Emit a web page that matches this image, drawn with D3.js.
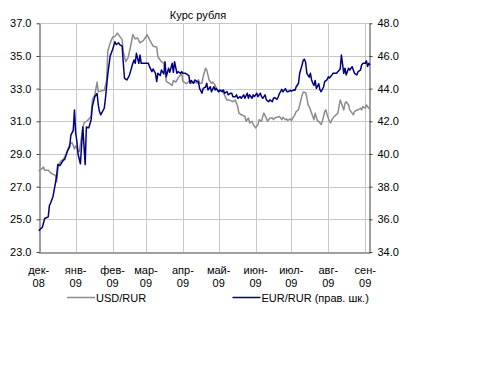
<!DOCTYPE html>
<html>
<head>
<meta charset="utf-8">
<script src="https://cdn.jsdelivr.net/npm/d3@7"></script>
<style>
  body { margin: 0; background: #fff; }
  svg { display: block; }
  text { font-family: "Liberation Sans", Arial, sans-serif; font-size: 11px; fill: #000; }
</style>
</head>
<body>
<svg id="chart" width="477" height="371"></svg>
<script>
// Курс доллара к рублю (левая шкала)
const usdDates = [
  "2008-12-01","2008-12-03","2008-12-05","2008-12-06","2008-12-09","2008-12-11","2008-12-13","2008-12-15","2008-12-16","2008-12-17",
  "2008-12-18","2008-12-20","2008-12-22","2008-12-24","2008-12-26","2008-12-27","2008-12-29","2008-12-31","2009-01-01","2009-01-03",
  "2009-01-04","2009-01-07","2009-01-08","2009-01-11","2009-01-14","2009-01-15","2009-01-17","2009-01-19","2009-01-20","2009-01-22",
  "2009-01-25","2009-01-27","2009-01-28","2009-01-30","2009-02-01","2009-02-03","2009-02-05","2009-02-07","2009-02-09","2009-02-10",
  "2009-02-12","2009-02-14","2009-02-16","2009-02-18","2009-02-20","2009-02-22","2009-02-24","2009-02-27","2009-03-02","2009-03-04",
  "2009-03-07","2009-03-10","2009-03-11","2009-03-14","2009-03-16","2009-03-17","2009-03-18","2009-03-21","2009-03-23","2009-03-24",
  "2009-03-26","2009-03-28","2009-03-31","2009-04-01","2009-04-04","2009-04-06","2009-04-07","2009-04-08","2009-04-11","2009-04-13",
  "2009-04-14","2009-04-15","2009-04-17","2009-04-18","2009-04-20","2009-04-21","2009-04-23","2009-04-25","2009-04-26","2009-04-28",
  "2009-04-29","2009-05-01","2009-05-04","2009-05-06","2009-05-08","2009-05-10","2009-05-13","2009-05-15","2009-05-17","2009-05-18",
  "2009-05-20","2009-05-23","2009-05-24","2009-05-26","2009-05-27","2009-05-29","2009-05-30","2009-06-01","2009-06-03","2009-06-04",
  "2009-06-06","2009-06-07","2009-06-08","2009-06-10","2009-06-11","2009-06-13","2009-06-15","2009-06-16","2009-06-17","2009-06-20",
  "2009-06-21","2009-06-23","2009-06-24","2009-06-26","2009-06-27","2009-06-28","2009-06-30","2009-07-01","2009-07-03","2009-07-04",
  "2009-07-05","2009-07-07","2009-07-08","2009-07-10","2009-07-11","2009-07-13","2009-07-14","2009-07-15","2009-07-16","2009-07-17",
  "2009-07-19","2009-07-20","2009-07-21","2009-07-23","2009-07-24","2009-07-26","2009-07-27","2009-07-29","2009-07-30","2009-07-31",
  "2009-08-02","2009-08-03","2009-08-04","2009-08-06","2009-08-07","2009-08-09","2009-08-10","2009-08-11","2009-08-12","2009-08-14",
  "2009-08-15","2009-08-16","2009-08-18","2009-08-19","2009-08-21","2009-08-22","2009-08-23","2009-08-25","2009-08-26","2009-08-28",
  "2009-08-29","2009-08-30","2009-09-01","2009-09-02","2009-09-04","2009-09-05"
];
const usdRates = [
  27.95,28.05,28.2,28.0,28.0,27.85,27.75,27.7,27.3,28.0,
  28.4,28.6,28.7,29.0,29.4,29.6,29.7,29.3,29.5,29.2,
  29.15,30.55,30.9,31.05,31.3,32.3,32.6,33.4,32.8,32.85,
  32.9,33.5,35.3,35.8,36.15,36.2,36.4,36.2,36.0,35.25,
  34.65,34.9,35.55,36.3,36.05,36.1,35.8,35.95,36.3,36.0,
  35.6,35.55,34.95,34.65,34.55,34.2,33.45,33.3,33.2,33.5,
  33.4,33.65,33.95,33.45,33.3,33.45,33.5,33.33,33.4,33.33,
  33.55,33.33,33.33,33.73,34.25,34.15,33.53,33.33,33.4,33.22,
  33.0,32.81,32.9,32.6,32.3,32.3,32.2,32.3,31.9,31.5,
  31.4,31.3,31.0,31.2,30.9,31.0,30.8,30.6,30.8,31.1,
  31.0,31.3,31.5,31.2,31.0,31.2,31.2,31.1,31.2,31.28,
  31.3,31.1,31.25,31.1,31.15,31.05,31.15,31.05,31.3,31.4,
  31.6,31.7,32.0,32.6,32.8,32.75,32.45,32.0,31.9,31.7,
  31.3,31.1,31.5,31.0,31.0,30.8,31.0,31.6,31.7,31.4,
  31.0,30.9,31.1,31.3,31.35,31.5,31.9,32.3,32.1,31.7,
  32.1,32.2,32.0,31.7,31.5,31.4,31.6,31.7,31.7,31.8,
  31.7,31.9,31.8,32.0,31.8,31.8
];

// Курс евро к рублю (правая шкала)
const eurDates = [
  "2008-12-01","2008-12-03","2008-12-04","2008-12-06","2008-12-09","2008-12-10","2008-12-11","2008-12-13","2008-12-15","2008-12-16",
  "2008-12-17","2008-12-19","2008-12-21","2008-12-23","2008-12-25","2008-12-27","2008-12-28","2008-12-30","2008-12-31","2009-01-01",
  "2009-01-02","2009-01-03","2009-01-05","2009-01-07","2009-01-09","2009-01-10","2009-01-12","2009-01-14","2009-01-15","2009-01-17",
  "2009-01-19","2009-01-20","2009-01-21","2009-01-22","2009-01-25","2009-01-26","2009-01-28","2009-01-30","2009-02-01","2009-02-03",
  "2009-02-04","2009-02-06","2009-02-07","2009-02-09","2009-02-10","2009-02-11","2009-02-13","2009-02-15","2009-02-16","2009-02-18",
  "2009-02-19","2009-02-20","2009-02-21","2009-02-23","2009-02-24","2009-02-25","2009-02-28","2009-03-03","2009-03-04","2009-03-06",
  "2009-03-07","2009-03-09","2009-03-10","2009-03-11","2009-03-13","2009-03-14","2009-03-16","2009-03-17","2009-03-18","2009-03-20",
  "2009-03-21","2009-03-23","2009-03-24","2009-03-25","2009-03-27","2009-03-28","2009-03-30","2009-03-31","2009-04-01","2009-04-03",
  "2009-04-04","2009-04-06","2009-04-07","2009-04-08","2009-04-10","2009-04-11","2009-04-13","2009-04-14","2009-04-15","2009-04-17",
  "2009-04-18","2009-04-20","2009-04-21","2009-04-22","2009-04-24","2009-04-25","2009-04-27","2009-04-28","2009-04-29","2009-05-01",
  "2009-05-02","2009-05-04","2009-05-05","2009-05-06","2009-05-08","2009-05-09","2009-05-11","2009-05-12","2009-05-13","2009-05-15",
  "2009-05-16","2009-05-17","2009-05-19","2009-05-20","2009-05-22","2009-05-23","2009-05-25","2009-05-26","2009-05-27","2009-05-29",
  "2009-05-30","2009-05-31","2009-06-02","2009-06-03","2009-06-05","2009-06-06","2009-06-07","2009-06-09","2009-06-10","2009-06-12",
  "2009-06-13","2009-06-15","2009-06-16","2009-06-17","2009-06-19","2009-06-20","2009-06-21","2009-06-23","2009-06-24","2009-06-26",
  "2009-06-27","2009-06-28","2009-06-30","2009-07-01","2009-07-03","2009-07-04","2009-07-05","2009-07-07","2009-07-08","2009-07-10",
  "2009-07-11","2009-07-12","2009-07-13","2009-07-14","2009-07-16","2009-07-17","2009-07-18","2009-07-19","2009-07-20","2009-07-21",
  "2009-07-22","2009-07-24","2009-07-25","2009-07-26","2009-07-28","2009-07-29","2009-07-31","2009-08-01","2009-08-02","2009-08-04",
  "2009-08-05","2009-08-07","2009-08-08","2009-08-09","2009-08-11","2009-08-12","2009-08-14","2009-08-15","2009-08-16","2009-08-18",
  "2009-08-19","2009-08-21","2009-08-22","2009-08-23","2009-08-25","2009-08-26","2009-08-28","2009-08-29","2009-08-30","2009-09-01",
  "2009-09-02","2009-09-03","2009-09-04","2009-09-05"
];
const eurRates = [
  35.3,35.45,35.5,36.05,36.15,36.85,37.0,37.4,38.2,38.6,
  39.35,39.3,39.55,39.7,40.15,40.45,41.15,41.45,42.7,41.3,
  40.8,40.0,39.4,41.65,39.35,41.65,41.6,42.1,42.9,43.5,
  43.7,43.0,42.6,42.4,42.8,43.4,44.9,46.0,46.4,46.87,
  46.7,46.8,46.7,46.6,45.55,44.63,44.53,44.8,45.04,45.55,
  45.75,45.55,46.16,45.55,46.06,45.55,45.55,45.55,45.35,45.04,
  45.2,44.94,44.43,44.94,44.8,45.14,44.9,45.65,44.73,45.25,
  45.0,45.55,45.0,45.65,44.94,45.04,44.94,45.04,44.94,44.94,
  44.9,44.8,44.33,44.5,44.33,44.53,44.43,44.43,44.02,43.72,
  44.02,44.1,44.33,43.92,44.12,43.81,44.12,43.92,44.02,43.81,
  43.92,43.81,43.92,43.72,43.82,43.62,43.72,43.72,43.51,43.51,
  43.62,43.41,43.51,43.41,43.62,43.41,43.72,43.41,43.62,43.41,
  43.62,43.51,43.72,43.51,43.72,43.51,43.41,43.62,43.31,43.2,
  43.31,43.2,43.41,43.45,43.35,43.5,43.7,43.96,43.8,44.0,
  43.85,43.8,43.9,43.85,43.92,43.9,44.1,44.33,44.94,45.45,
  45.75,45.8,45.6,44.94,44.7,44.94,44.53,44.33,44.2,44.5,
  44.02,44.3,43.92,43.81,44.1,44.43,44.55,44.73,44.65,44.84,
  44.94,44.94,44.94,45.04,45.2,46.06,44.94,45.25,44.84,45.25,
  45.14,45.35,45.14,44.94,44.84,45.04,45.14,45.45,45.55,45.55,
  45.7,45.35,45.55,45.45
];

// Подписи осей
const monthStarts = ["2008-12-01","2009-01-01","2009-02-01","2009-03-01","2009-04-01","2009-05-01",
                     "2009-06-01","2009-07-01","2009-08-01","2009-09-01"];
const monthLabels = ["дек-08","янв-09","фев-09","мар-09","апр-09","май-09","июн-09","июл-09","авг-09","сен-09"];
const usdTicks = [23, 25, 27, 29, 31, 33, 35, 37];
const eurTicks = [34, 36, 38, 40, 42, 44, 46, 48];
const seriesNames = ["USD/RUR", "EUR/RUR (прав. шк.)"];

const parse = d3.timeParse("%Y-%m-%d");
const usd = usdDates.map((d, i) => ({ date: parse(d), value: usdRates[i] }));
const eur = eurDates.map((d, i) => ({ date: parse(d), value: eurRates[i] }));
const months = monthStarts.map(parse);

const plot = { left: 38.7, right: 370, top: 23.3, bottom: 252 };
const svg = d3.select("#chart");

const x = d3.scaleTime()
  .domain([parse("2008-12-01"), parse("2009-09-05")])
  .range([plot.left, plot.right]);
const yL = d3.scaleLinear().domain([23, 37]).range([plot.bottom, plot.top]);
const yR = d3.scaleLinear().domain([34, 48]).range([plot.bottom, plot.top]);

// Сетка
const grid = svg.append("g").attr("stroke", "#c8c8c8").attr("stroke-width", 1);
grid.selectAll("line.h").data(usdTicks.slice(1)).join("line")
  .attr("x1", plot.left).attr("x2", plot.right)
  .attr("y1", d => Math.round(yL(d)) + 0.5).attr("y2", d => Math.round(yL(d)) + 0.5);
grid.selectAll("line.v").data(months.slice(1)).join("line")
  .attr("x1", d => Math.round(x(d)) + 0.5).attr("x2", d => Math.round(x(d)) + 0.5)
  .attr("y1", plot.top).attr("y2", plot.bottom);

// Левая ось
const leftAxis = svg.append("g")
  .attr("transform", `translate(${Math.round(plot.left) + 0.5},0)`)
  .call(d3.axisLeft(yL).tickValues(usdTicks).tickSize(3).tickSizeOuter(0).tickPadding(5).tickFormat(d3.format(".1f")));
// Правая ось
const rightAxis = svg.append("g")
  .attr("transform", `translate(${Math.round(plot.right) - 0.5},0)`)
  .call(d3.axisRight(yR).tickValues(eurTicks).tickSize(3).tickSizeOuter(0).tickPadding(5).tickFormat(d3.format(".1f")));
// Нижняя ось
const bottomAxis = svg.append("g")
  .attr("transform", `translate(0,${Math.round(plot.bottom) + 0.5})`)
  .call(d3.axisBottom(x).tickValues(months).tickSize(0).tickSizeOuter(0).tickFormat(""));

[leftAxis, rightAxis, bottomAxis].forEach(g => {
  g.select(".domain").attr("stroke", "#404040").attr("stroke-width", 1);
  g.selectAll(".tick line").attr("stroke", "#404040");
  g.selectAll("text").attr("font-family", null).attr("font-size", null).attr("fill", "#000");
});

// Подписи месяцев в две строки
const mLabels = svg.append("g").selectAll("text").data(months).join("text")
  .attr("text-anchor", "middle")
  .attr("x", d => x(d));
mLabels.append("tspan").attr("x", d => x(d)).attr("y", 274)
  .text((d, i) => monthLabels[i].split("-")[0] + "-");
mLabels.append("tspan").attr("x", d => x(d)).attr("y", 287)
  .text((d, i) => monthLabels[i].split("-")[1]);

// Линии курсов
const lineL = d3.line().x(d => x(d.date)).y(d => yL(d.value));
const lineR = d3.line().x(d => x(d.date)).y(d => yR(d.value));
svg.append("path").datum(usd).attr("d", lineL)
  .attr("fill", "none").attr("stroke", "#8c8c8c").attr("stroke-width", 1.5).attr("stroke-linejoin", "round");
svg.append("path").datum(eur).attr("d", lineR)
  .attr("fill", "none").attr("stroke", "#000080").attr("stroke-width", 1.5).attr("stroke-linejoin", "round");

// Заголовок
svg.append("text").attr("x", 198).attr("y", 19).attr("text-anchor", "middle").text("Курс рубля");

// Легенда
const legend = [
  { name: seriesNames[0], color: "#8c8c8c", x: 67 },
  { name: seriesNames[1], color: "#000080", x: 232.5 }
];
const lg = svg.append("g").selectAll("g").data(legend).join("g")
  .attr("transform", d => `translate(${d.x},297.5)`);
lg.append("line").attr("x1", 0).attr("x2", 28).attr("stroke", d => d.color).attr("stroke-width", 1.5);
lg.append("text").attr("x", 29).attr("y", 4).text(d => d.name);
</script>
</body>
</html>
